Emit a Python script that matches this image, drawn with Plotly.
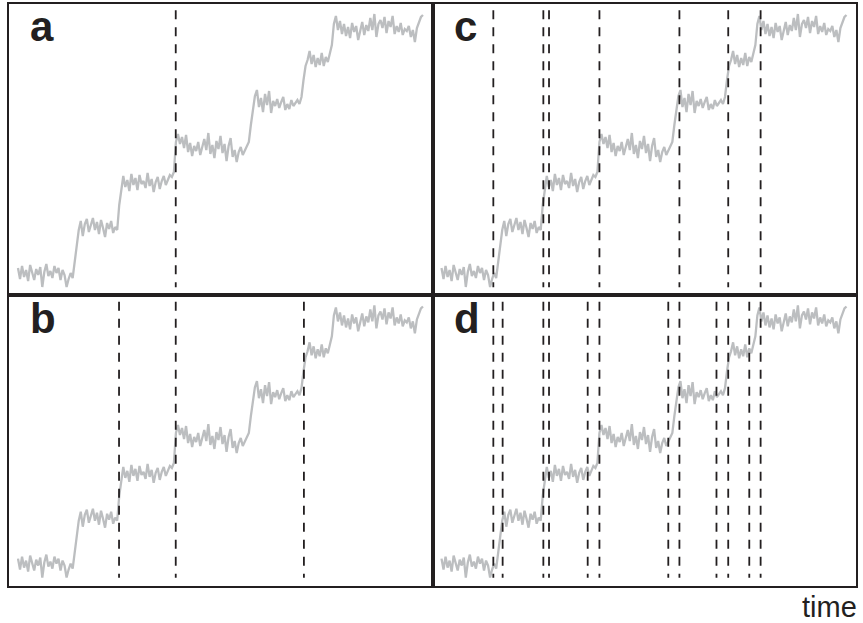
import plotly.graph_objects as go

# Time index and signal values
signal = [
    2.2, 1.1, 2.4, 1.3, 2.0, 0.9, 2.5, 1.6, 1.0, 2.1, 1.5, 2.3, 0.3, 1.8, 2.6, 1.4, 1.9, 1.2, 2.4, 1.7,
    2.2, 1.0, 2.0, 1.5, 0.3, 1.1, 1.7,
    1.2, 3.0, 4.8, 6.0,
    6.9, 5.4, 6.6, 7.1, 5.8, 6.4, 7.2, 6.0, 6.8, 5.6, 7.0, 6.2, 5.3, 6.7, 6.1, 6.9, 5.7, 6.3, 6.0,
    8.5, 10.2,
    11.4, 10.3, 11.0, 9.9, 11.6, 10.5, 11.2, 10.0, 11.5, 10.6, 10.9, 10.2, 11.7, 10.4, 11.1, 9.8,
    10.8, 11.3, 10.1, 10.9, 11.4, 10.5, 11.0, 11.5, 11.3,
    11.8, 14.8,
    15.6, 14.6, 15.3, 14.2, 15.5, 13.8, 14.7, 13.4, 14.4, 13.9, 14.8, 13.5, 14.3, 15.1, 14.0, 15.7,
    13.6, 14.5, 13.2, 14.9, 14.1, 15.4, 13.7, 14.6, 12.9, 14.4, 15.2, 13.3, 14.0, 12.8, 13.8, 14.3,
    13.5, 14.0, 14.4, 14.8,
    16.5, 18.0,
    19.4, 20.0, 18.3, 19.2, 17.8, 19.6, 18.5, 19.9, 17.7, 18.9, 18.4, 19.1, 18.2, 18.8, 19.3, 18.0,
    18.6, 18.1, 19.0, 18.4, 18.7, 19.0, 18.6, 19.3,
    21.0, 22.4,
    23.0, 23.9, 22.6, 23.5, 22.3, 23.2, 22.5, 23.7, 22.4, 23.3, 22.8, 23.6,
    24.5, 26.6,
    27.4, 26.0, 26.9, 25.6, 26.6, 25.4, 26.3, 25.2, 26.7, 25.8, 26.4, 25.0, 26.1, 26.8, 25.5, 26.5,
    25.9, 27.2, 26.0, 27.6, 25.3, 26.6, 27.0, 26.2, 27.3, 25.7, 26.9, 26.3, 27.4, 25.6, 26.4, 25.8,
    26.7, 25.5, 26.1, 25.9, 26.4, 25.3, 26.0, 24.8, 26.2, 26.7, 27.3, 27.5,
]
time = list(range(len(signal)))

# Detected change points per panel (time index)
cp_a = [77.9]
cp_b = [49.9, 77.9, 141.2]
cp_c = [25.6, 50.3, 53.1, 78.0, 117.5, 141.6, 157.6]
cp_d = [25.6, 30.2, 50.3, 53.1, 72.2, 78.0, 112.0, 117.5, 135.8, 141.6, 152.0, 157.6]

panel_labels = ["a", "b", "c", "d"]
panel_cps = [cp_a, cp_b, cp_c, cp_d]
x_label = "time"

W, H = 863, 623
FRAME = "#231f20"
GREY = "#bcbec0"

def px(xp):
    return xp / W

def py(yp):
    return 1 - yp / H

# panel pixel boxes: (left, right, top, bottom)
boxes = [
    (9, 432.5, 3.5, 295),
    (9, 432.5, 295, 585.5),
    (432.5, 856, 3.5, 295),
    (432.5, 856, 295, 585.5),
]

fig = go.Figure()
layout = dict(
    width=W, height=H,
    margin=dict(l=0, r=0, t=0, b=0),
    paper_bgcolor="white", plot_bgcolor="white",
    showlegend=False,
)
annotations = []
shapes = []
for i, (box, lab, cps) in enumerate(zip(boxes, panel_labels, panel_cps)):
    n = i + 1
    xa = "xaxis" if n == 1 else f"xaxis{n}"
    ya = "yaxis" if n == 1 else f"yaxis{n}"
    xr = "x" if n == 1 else f"x{n}"
    yr = "y" if n == 1 else f"y{n}"
    l, r, t, b = box
    layout[xa] = dict(domain=[px(l), px(r)], range=[-4.44, 204.7], anchor=yr,
                      showgrid=False, zeroline=False, showticklabels=False, ticks="",
                      showline=True, mirror=True, linecolor=FRAME, linewidth=2)
    layout[ya] = dict(domain=[py(b), py(t)], range=[-0.5, 28.65], anchor=xr,
                      showgrid=False, zeroline=False, showticklabels=False, ticks="",
                      showline=True, mirror=True, linecolor=FRAME, linewidth=2)
    fig.add_trace(go.Scatter(x=time, y=signal, mode="lines", xaxis=xr, yaxis=yr,
                             line=dict(color=GREY, width=2.3), hoverinfo="skip"))
    for c in cps:
        shapes.append(dict(type="line", xref=xr, yref=f"{yr} domain", x0=c, x1=c,
                           y0=0.977, y1=0.027,
                           line=dict(color=FRAME, width=1.8, dash="9px,8px")))
    annotations.append(dict(text=f"<b>{lab}</b>", xref="paper", yref="paper",
                            x=px(l + 19), y=py(t + 23), xanchor="left", yanchor="middle",
                            showarrow=False,
                            font=dict(family="Liberation Sans, Arial, sans-serif", size=42, color=FRAME)))

annotations.append(dict(text=x_label, xref="paper", yref="paper", x=px(859), y=py(607),
                        xanchor="right", yanchor="middle", showarrow=False,
                        font=dict(family="Liberation Sans, Arial, sans-serif", size=29, color=FRAME)))
layout["annotations"] = annotations
layout["shapes"] = shapes
fig.update_layout(**layout)
fig.write_html("out.html", config={"displayModeBar": False},
               post_script="document.body.style.margin='0';document.body.style.padding='0';document.body.style.overflow='hidden';")
